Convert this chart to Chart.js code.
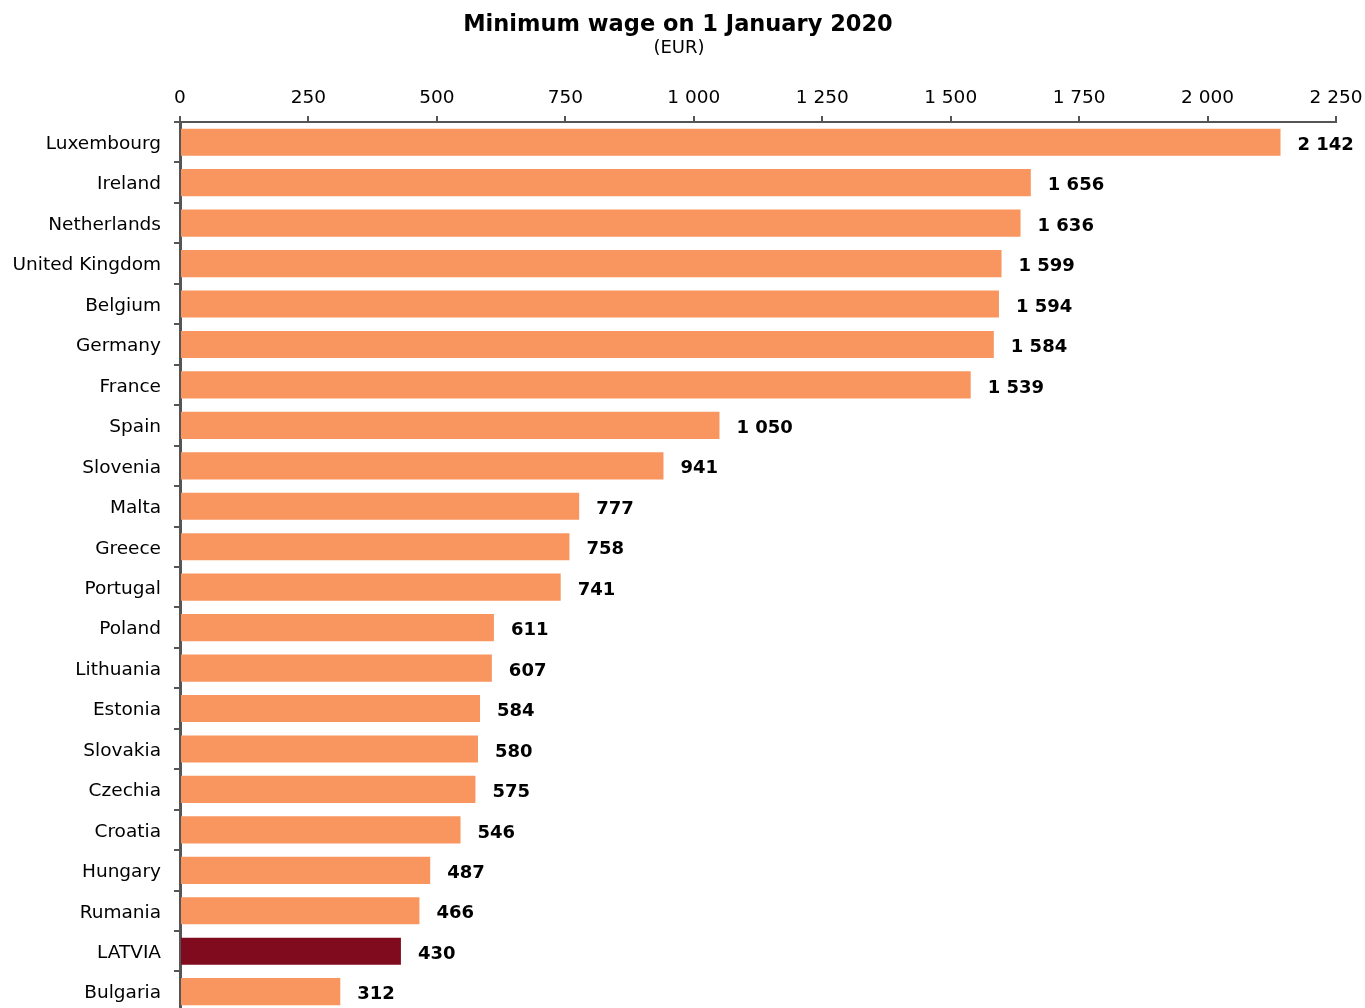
<!DOCTYPE html>
<html>
<head>
<meta charset="utf-8">
<script src="https://cdn.jsdelivr.net/npm/chart.js@4.4.1/dist/chart.umd.min.js"></script>
<style>
  html, body { margin: 0; padding: 0; background: #fff; overflow: hidden; }
  #wrap { width: 1365px; height: 1036px; }
  canvas { display: block; }
</style>
</head>
<body>
<div id="wrap"><canvas id="c" width="1365" height="1036" style="width:1365px;height:1036px"></canvas></div>
<script>
const countries = ["Luxembourg", "Ireland", "Netherlands", "United Kingdom", "Belgium", "Germany",
  "France", "Spain", "Slovenia", "Malta", "Greece", "Portugal", "Poland", "Lithuania", "Estonia",
  "Slovakia", "Czechia", "Croatia", "Hungary", "Rumania", "LATVIA", "Bulgaria"];
const wages = [2142, 1656, 1636, 1599, 1594, 1584, 1539, 1050, 941, 777, 758, 741, 611, 607, 584,
  580, 575, 546, 487, 466, 430, 312];
const highlight = "LATVIA";
const titleText = "Minimum wage on 1 January 2020";
const subtitleText = "(EUR)";

const orange = "#F9965F";
const darkRed = "#800A1E";
const axisGray = "#555555";
const fontFamily = "'DejaVu Sans', Verdana, sans-serif";

// 1 234 -> "1 234"
const fmt = n => String(n).replace(/\B(?=(\d{3})+(?!\d))/g, " ");

// titre + sous-titre, centrés un peu à droite comme dans l'original
const headerText = {
  id: "headerText",
  afterDraw(chart) {
    const ctx = chart.ctx;
    ctx.save();
    ctx.fillStyle = "#000";
    ctx.textAlign = "center";
    ctx.textBaseline = "middle";
    ctx.font = "bold 22.5px " + fontFamily;
    ctx.fillText(titleText, 678, 25);
    ctx.font = "18px " + fontFamily;
    ctx.fillText(subtitleText, 679, 48.5);
    ctx.restore();
  }
};

// valeurs en gras à droite des barres
const valueLabels = {
  id: "valueLabels",
  afterDatasetsDraw(chart) {
    const ctx = chart.ctx;
    const meta = chart.getDatasetMeta(0);
    ctx.save();
    ctx.font = "bold 18px " + fontFamily;
    ctx.fillStyle = "#000";
    ctx.textAlign = "left";
    ctx.textBaseline = "middle";
    meta.data.forEach((bar, i) => {
      ctx.fillText(fmt(wages[i]), bar.x + 17, bar.y + 3);
    });
    ctx.restore();
  }
};

new Chart(document.getElementById("c"), {
  type: "bar",
  data: {
    labels: countries,
    datasets: [{
      data: wages,
      backgroundColor: countries.map(c => c === highlight ? darkRed : orange),
      borderWidth: 0,
      barPercentage: 0.67,
      categoryPercentage: 1
    }]
  },
  options: {
    indexAxis: "y",
    responsive: false,
    animation: false,
    layout: { padding: { left: 0, right: 29, top: 60, bottom: 3 } },
    plugins: {
      legend: { display: false },
      tooltip: { enabled: false },
      title: { display: false }
    },
    scales: {
      x: {
        position: "top",
        min: 0,
        max: 2250,
        afterFit: s => { s.height = 62; s.paddingRight = 0; s.paddingLeft = 0; },
        ticks: {
          stepSize: 250,
          color: "#000",
          padding: 7,
          maxRotation: 0,
          font: { family: fontFamily, size: 18.5 },
          callback: v => fmt(v)
        },
        grid: { drawOnChartArea: false, drawTicks: true, tickLength: 6, color: axisGray, lineWidth: 2 },
        border: { display: true, color: axisGray, width: 2 }
      },
      y: {
        afterFit: s => { s.width = 180; },
        ticks: {
          color: "#000",
          padding: 13,
          labelOffset: 2,
          font: { family: fontFamily, size: 18.5 }
        },
        grid: { drawOnChartArea: false, drawTicks: true, tickLength: 6, color: axisGray, lineWidth: 2, offset: true },
        border: { display: true, color: axisGray, width: 3 }
      }
    }
  },
  plugins: [valueLabels, headerText]
});
</script>
</body>
</html>
